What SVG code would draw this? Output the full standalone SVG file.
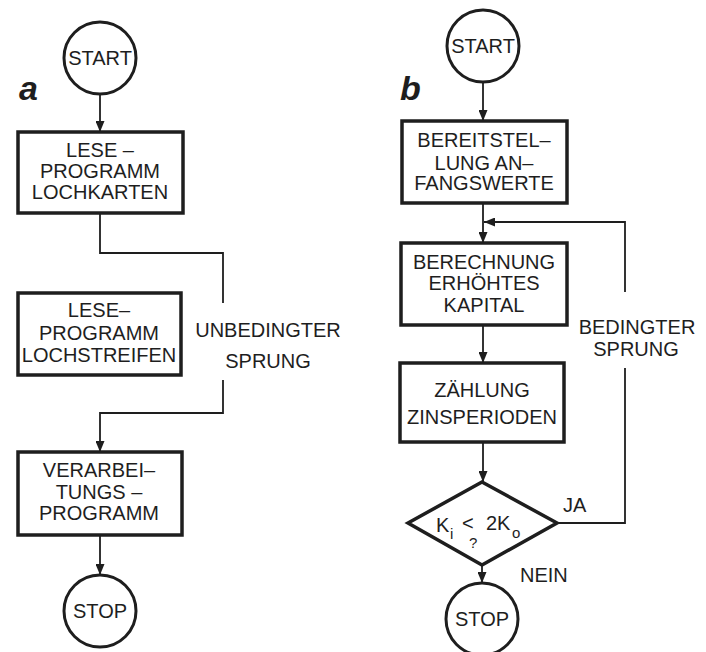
<svg xmlns="http://www.w3.org/2000/svg" width="706" height="652" viewBox="0 0 706 652">
<style>
.bg{fill:#ffffff}
.box{fill:none;stroke:#1e1e1e;stroke-width:3.5}
.term{fill:none;stroke:#1e1e1e;stroke-width:3}
.con{fill:none;stroke:#1e1e1e;stroke-width:1.8}
.t{font-family:"Liberation Sans",Arial,sans-serif;font-size:20px;fill:#1e1e1e;text-anchor:middle}
.lbl{font-family:"Liberation Sans",Arial,sans-serif;font-size:20px;fill:#1e1e1e}
.big{font-family:"Liberation Sans",Arial,sans-serif;font-size:34px;font-weight:bold;font-style:italic;fill:#1e1e1e}
.sub{font-family:"Liberation Sans",Arial,sans-serif;font-size:15px;fill:#1e1e1e}
</style>
<defs>
<marker id="arr" markerUnits="userSpaceOnUse" markerWidth="11" markerHeight="9" refX="11" refY="4.5" orient="auto">
<path d="M0,0 L11,4.5 L0,9 z" fill="#1e1e1e"/>
</marker>
</defs>
<rect class="bg" x="0" y="0" width="706" height="652"/>

<text class="big" x="19" y="100">a</text>
<text class="big" x="400" y="100">b</text>

<g id="connectors">
<line class="con" x1="100" y1="94" x2="100" y2="132" marker-end="url(#arr)"/>
<polyline class="con" points="100,213 100,253 223,253 223,303"/>
<polyline class="con" points="223,380 223,413 100,413 100,452" marker-end="url(#arr)"/>
<line class="con" x1="100" y1="535" x2="100" y2="575" marker-end="url(#arr)"/>

<line class="con" x1="483" y1="82" x2="483" y2="121" marker-end="url(#arr)"/>
<line class="con" x1="483" y1="203" x2="483" y2="243" marker-end="url(#arr)"/>
<line class="con" x1="483" y1="325" x2="483" y2="363" marker-end="url(#arr)"/>
<line class="con" x1="483" y1="442" x2="483" y2="482" marker-end="url(#arr)"/>
<line class="con" x1="482" y1="565" x2="482" y2="583" marker-end="url(#arr)"/>
<polyline class="con" points="557,523 625,523 625,368"/>
<polyline class="con" points="625,292 625,222 484,222" marker-end="url(#arr)"/>
</g>

<g id="labels">
<text class="t" x="268" y="337">UNBEDINGTER</text>
<text class="t" x="268" y="368">SPRUNG</text>
<text class="t" x="637" y="334">BEDINGTER</text>
<text class="t" x="636" y="356">SPRUNG</text>
<text class="lbl" x="563" y="512">JA</text>
<text class="lbl" x="520" y="582">NEIN</text>
</g>

<g id="a_start">
<circle class="term" cx="100" cy="58" r="36"/>
<text class="t" x="100" y="65">START</text>
</g>
<g id="a_lese_lochkarten">
<rect class="box" x="18" y="132" width="165" height="81"/>
<text class="t" x="100" y="157">LESE –</text>
<text class="t" x="100" y="178">PROGRAMM</text>
<text class="t" x="100" y="199">LOCHKARTEN</text>
</g>
<g id="a_lese_lochstreifen">
<rect class="box" x="18" y="293" width="163" height="82"/>
<text class="t" x="99" y="317">LESE–</text>
<text class="t" x="99" y="340">PROGRAMM</text>
<text class="t" x="99" y="362">LOCHSTREIFEN</text>
</g>
<g id="a_verarbeitung">
<rect class="box" x="18" y="452" width="164" height="83"/>
<text class="t" x="99" y="477">VERARBEI–</text>
<text class="t" x="99" y="499">TUNGS –</text>
<text class="t" x="99" y="520">PROGRAMM</text>
</g>
<g id="a_stop">
<circle class="term" cx="100" cy="611" r="36"/>
<text class="t" x="100" y="618">STOP</text>
</g>

<g id="b_start">
<circle class="term" cx="483" cy="46" r="36"/>
<text class="t" x="483" y="53">START</text>
</g>
<g id="b_bereitstellung">
<rect class="box" x="402" y="121" width="165" height="82"/>
<text class="t" x="484" y="147">BEREITSTEL–</text>
<text class="t" x="484" y="170">LUNG AN–</text>
<text class="t" x="484" y="190">FANGSWERTE</text>
</g>
<g id="b_berechnung">
<rect class="box" x="401" y="243" width="166" height="82"/>
<text class="t" x="484" y="269">BERECHNUNG</text>
<text class="t" x="484" y="290">ERHÖHTES</text>
<text class="t" x="484" y="312">KAPITAL</text>
</g>
<g id="b_zaehlung">
<rect class="box" x="400" y="363" width="164" height="79"/>
<text class="t" x="482" y="397">ZÄHLUNG</text>
<text class="t" x="482" y="424">ZINSPERIODEN</text>
</g>
<g id="b_decision">
<polygon class="box" points="482,482 557,523 482,565 408,523"/>
<text class="lbl" x="436" y="532">K</text>
<text class="sub" x="450" y="539">i</text>
<text class="lbl" x="462" y="530">&lt;</text>
<text class="sub" x="469" y="548">?</text>
<text class="lbl" x="486" y="530">2K</text>
<text class="sub" x="512" y="538">o</text>
</g>
<g id="b_stop">
<circle class="term" cx="482" cy="619" r="36"/>
<text class="t" x="482" y="626">STOP</text>
</g>
</svg>
